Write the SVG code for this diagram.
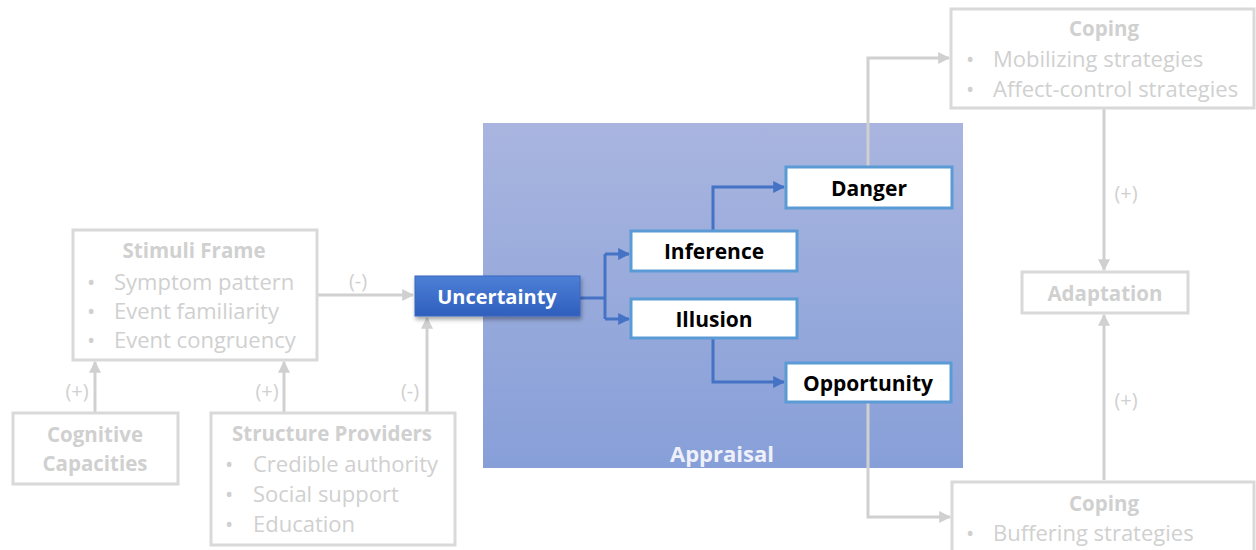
<svg xmlns="http://www.w3.org/2000/svg" width="1256" height="550" viewBox="0 0 1256 550">
<defs>
<linearGradient id="apg" x1="0" y1="0" x2="0" y2="1">
<stop offset="0" stop-color="#a9b5df"/>
<stop offset="1" stop-color="#879fd8"/>
</linearGradient>
<linearGradient id="ung" x1="0" y1="0" x2="0" y2="1">
<stop offset="0" stop-color="#4d7fd6"/>
<stop offset="1" stop-color="#2f5fbe"/>
</linearGradient>
<filter id="sh" x="-20%" y="-30%" width="140%" height="170%">
<feDropShadow dx="1" dy="3" stdDeviation="2" flood-color="#000" flood-opacity="0.35"/>
</filter>
<marker id="ag" viewBox="0 0 10 10" refX="9" refY="5" markerWidth="4" markerHeight="4" orient="auto" markerUnits="strokeWidth">
<path d="M0,0 L10,5 L0,10 z" fill="#d0d0d0"/>
</marker>
<marker id="ab" viewBox="0 0 10 10" refX="9" refY="5" markerWidth="4" markerHeight="4" orient="auto" markerUnits="strokeWidth">
<path d="M0,0 L10,5 L0,10 z" fill="#4472c4"/>
</marker>
</defs>
<style>
.gbox{fill:#fff;stroke:#d9d9d9;stroke-width:3}
.wbox{fill:#fff;stroke:#5b9bd5;stroke-width:3}
.gt{font-family:"Open Sans","Liberation Sans",sans-serif;font-size:22px;fill:#d0d0d0;dominant-baseline:central}
.gtb{font-family:"Open Sans","Liberation Sans",sans-serif;font-size:20.5px;font-weight:bold;fill:#d0d0d0;dominant-baseline:central;text-anchor:middle}
.bt{font-family:"Open Sans","Liberation Sans",sans-serif;font-size:21px;font-weight:bold;fill:#000;dominant-baseline:central;text-anchor:middle}
.lbl{font-family:"Open Sans","Liberation Sans",sans-serif;font-size:20px;fill:#d0d0d0;dominant-baseline:central;text-anchor:middle}
.gl{fill:none;stroke:#d0d0d0;stroke-width:3}
.bl{fill:none;stroke:#4472c4;stroke-width:3}
</style>

<g id="appraisal">
<rect x="483" y="123" width="480" height="345" fill="url(#apg)"/>
<text x="722" y="453" style="font-family:'Open Sans','Liberation Sans',sans-serif;font-size:22px;font-weight:bold;fill:#eef0fa;dominant-baseline:central;text-anchor:middle">Appraisal</text>
</g>

<g id="connectors">
<path class="gl" d="M317,295 H413" marker-end="url(#ag)"/>
<path class="gl" d="M95,413 V362" marker-end="url(#ag)"/>
<path class="gl" d="M284,413 V362" marker-end="url(#ag)"/>
<path class="gl" d="M427,413 V318" marker-end="url(#ag)"/>
<path class="gl" d="M868,166 V58 H949" marker-end="url(#ag)"/>
<path class="gl" d="M868,403 V517 H950" marker-end="url(#ag)"/>
<path class="gl" d="M1104,109 V270" marker-end="url(#ag)"/>
<path class="gl" d="M1104,480 V315" marker-end="url(#ag)"/>
<path class="bl" d="M580,298 H605"/>
<path class="bl" d="M605,254 V319"/>
<path class="bl" d="M605,254 H629" marker-end="url(#ab)"/>
<path class="bl" d="M605,319 H629" marker-end="url(#ab)"/>
<path class="bl" d="M713,230 V187 H784" marker-end="url(#ab)"/>
<path class="bl" d="M713,339 V382 H784" marker-end="url(#ab)"/>
<text class="lbl" x="358" y="280">(-)</text>
<text class="lbl" x="77" y="390">(+)</text>
<text class="lbl" x="267" y="390">(+)</text>
<text class="lbl" x="410" y="390">(-)</text>
<text class="lbl" x="1126" y="192">(+)</text>
<text class="lbl" x="1126" y="399">(+)</text>
</g>

<g id="stimuli">
<rect class="gbox" x="73" y="230" width="244" height="130"/>
<text class="gtb" x="194" y="250">Stimuli Frame</text>
<text class="gt" x="87" y="281">•</text><text class="gt" x="114" y="281">Symptom pattern</text>
<text class="gt" x="87" y="310">•</text><text class="gt" x="114" y="310">Event familiarity</text>
<text class="gt" x="87" y="339">•</text><text class="gt" x="114" y="339">Event congruency</text>
</g>

<g id="cognitive">
<rect class="gbox" x="13" y="413" width="165" height="71"/>
<text class="gtb" x="95" y="434">Cognitive</text>
<text class="gtb" x="95" y="463">Capacities</text>
</g>

<g id="structure">
<rect class="gbox" x="211" y="413" width="244" height="132"/>
<text class="gtb" x="332" y="433">Structure Providers</text>
<text class="gt" x="225" y="463">•</text><text class="gt" x="253" y="463">Credible authority</text>
<text class="gt" x="225" y="493">•</text><text class="gt" x="253" y="493">Social support</text>
<text class="gt" x="225" y="523">•</text><text class="gt" x="253" y="523">Education</text>
</g>

<g id="uncertainty">
<rect x="415" y="276" width="165" height="40" fill="url(#ung)" stroke="#3a66c0" stroke-width="1" filter="url(#sh)"/>
<text x="497" y="296" style="font-family:'Open Sans','Liberation Sans',sans-serif;font-size:20px;font-weight:bold;fill:#fff;dominant-baseline:central;text-anchor:middle">Uncertainty</text>
</g>

<g id="inference">
<rect class="wbox" x="631" y="231" width="166" height="40"/>
<text class="bt" x="714" y="251">Inference</text>
</g>
<g id="illusion">
<rect class="wbox" x="631" y="299" width="166" height="39"/>
<text class="bt" x="714" y="319">Illusion</text>
</g>
<g id="danger">
<rect class="wbox" x="786" y="167" width="166" height="41"/>
<text class="bt" x="869" y="188">Danger</text>
</g>
<g id="opportunity">
<rect class="wbox" x="786" y="363" width="165" height="39"/>
<text class="bt" x="868" y="383">Opportunity</text>
</g>

<g id="coping-top">
<rect class="gbox" x="951" y="9" width="303" height="99"/>
<text class="gtb" x="1104" y="28">Coping</text>
<text class="gt" x="966" y="58">•</text><text class="gt" x="993" y="58">Mobilizing strategies</text>
<text class="gt" x="966" y="88">•</text><text class="gt" x="993" y="88">Affect-control strategies</text>
</g>

<g id="adaptation">
<rect class="gbox" x="1022" y="272" width="166" height="41"/>
<text class="gtb" x="1105" y="293">Adaptation</text>
</g>

<g id="coping-bottom">
<rect class="gbox" x="952" y="482" width="302" height="90"/>
<text class="gtb" x="1104" y="503">Coping</text>
<text class="gt" x="966" y="532">•</text><text class="gt" x="993" y="532">Buffering strategies</text>
</g>
</svg>
